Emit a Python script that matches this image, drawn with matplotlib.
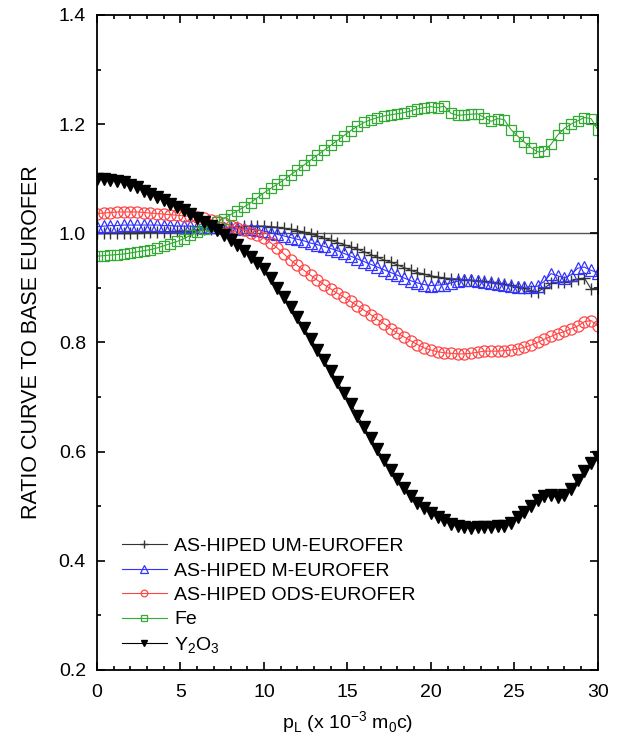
import numpy as np
import matplotlib
matplotlib.use('Agg')
import matplotlib.pyplot as plt

plt.rcParams['font.family'] = ['Liberation Sans', 'DejaVu Sans']
plt.rcParams['mathtext.fontset'] = 'custom'
plt.rcParams['mathtext.rm'] = 'Liberation Sans'

# momentum grid (x 10^-3 m0c)
p_l = np.arange(0, 30.01, 0.4)

um_eurofer = [1.000, 1.000, 1.000, 1.000, 1.001, 1.001, 1.001, 1.002, 1.002, 1.002,
              1.003, 1.003, 1.004, 1.004, 1.005, 1.006, 1.007, 1.008, 1.009, 1.010,
              1.011, 1.012, 1.013, 1.013, 1.013, 1.013, 1.012, 1.011, 1.009, 1.007,
              1.005, 1.002, 0.999, 0.995, 0.991, 0.987, 0.983, 0.979, 0.975, 0.971,
              0.966, 0.961, 0.956, 0.951, 0.947, 0.942, 0.937, 0.932, 0.928, 0.925,
              0.922, 0.920, 0.918, 0.917, 0.916, 0.915, 0.914, 0.913, 0.912, 0.911,
              0.909, 0.907, 0.905, 0.902, 0.899, 0.895, 0.893, 0.900, 0.908, 0.910,
              0.911, 0.912, 0.916, 0.918, 0.898, 0.900]

m_eurofer = [1.012, 1.013, 1.014, 1.014, 1.015, 1.015, 1.015, 1.015, 1.015, 1.015,
             1.014, 1.014, 1.013, 1.013, 1.013, 1.012, 1.012, 1.011, 1.011, 1.010,
             1.010, 1.009, 1.008, 1.007, 1.006, 1.004, 1.001, 0.998, 0.995, 0.992,
             0.989, 0.986, 0.982, 0.979, 0.976, 0.972, 0.968, 0.963, 0.958, 0.953,
             0.948, 0.943, 0.938, 0.933, 0.928, 0.923, 0.918, 0.913, 0.909, 0.906,
             0.904, 0.905, 0.906, 0.909, 0.912, 0.915, 0.914, 0.912, 0.910, 0.909,
             0.907, 0.905, 0.903, 0.902, 0.901, 0.902, 0.903, 0.912, 0.926, 0.922,
             0.918, 0.924, 0.936, 0.938, 0.932, 0.928]

ods_eurofer = [1.036, 1.037, 1.038, 1.039, 1.039, 1.039, 1.039, 1.038, 1.037, 1.036,
               1.035, 1.034, 1.033, 1.032, 1.031, 1.030, 1.028, 1.025, 1.022, 1.018,
               1.014, 1.010, 1.006, 1.001, 0.996, 0.991, 0.983, 0.973, 0.962, 0.951,
               0.941, 0.932, 0.923, 0.914, 0.906, 0.898, 0.890, 0.883, 0.875, 0.867,
               0.859, 0.851, 0.842, 0.834, 0.825, 0.817, 0.810, 0.803, 0.796, 0.790,
               0.786, 0.783, 0.781, 0.780, 0.779, 0.779, 0.780, 0.782, 0.784, 0.784,
               0.784, 0.785, 0.786, 0.788, 0.791, 0.795, 0.800, 0.806, 0.811, 0.816,
               0.820, 0.825, 0.830, 0.838, 0.840, 0.830]

fe = [0.958, 0.959, 0.960, 0.961, 0.962, 0.964, 0.966, 0.968, 0.970, 0.973,
      0.977, 0.981, 0.985, 0.990, 0.996, 1.002, 1.008, 1.014, 1.020, 1.027,
      1.034, 1.041, 1.048, 1.056, 1.065, 1.074, 1.082, 1.090, 1.098, 1.107,
      1.116, 1.125, 1.134, 1.143, 1.152, 1.161, 1.170, 1.179, 1.188, 1.196,
      1.203, 1.208, 1.212, 1.215, 1.217, 1.219, 1.221, 1.224, 1.228, 1.230,
      1.232, 1.230, 1.233, 1.220, 1.216, 1.217, 1.218, 1.219, 1.212, 1.205,
      1.210, 1.208, 1.190, 1.178, 1.167, 1.157, 1.149, 1.150, 1.163, 1.180,
      1.192, 1.200, 1.206, 1.212, 1.210, 1.190]

y2o3 = [1.100, 1.100, 1.098, 1.096, 1.093, 1.089, 1.084, 1.078, 1.072, 1.066,
        1.060, 1.054, 1.048, 1.042, 1.035, 1.028, 1.021, 1.014, 1.006, 0.997,
        0.988, 0.978, 0.968, 0.957, 0.946, 0.934, 0.918, 0.900, 0.883, 0.865,
        0.846, 0.827, 0.807, 0.787, 0.767, 0.748, 0.728, 0.708, 0.688, 0.666,
        0.645, 0.624, 0.604, 0.585, 0.567, 0.549, 0.533, 0.518, 0.505, 0.496,
        0.488, 0.481, 0.474, 0.468, 0.463, 0.461, 0.460, 0.461, 0.461, 0.462,
        0.463, 0.464, 0.470, 0.480, 0.490, 0.500, 0.512, 0.519, 0.520, 0.516,
        0.520, 0.532, 0.548, 0.565, 0.579, 0.590]

fig = plt.figure(figsize=(6.22, 7.46), dpi=100)
ax = fig.add_axes([0.156, 0.102, 0.805, 0.878])

ax.axhline(1.0, color='#555555', lw=1.0, zorder=1)

ax.plot(p_l, um_eurofer, color='#333333', lw=0.8, marker='+', ms=9, mew=1.0,
        label='AS-HIPED UM-EUROFER')
ax.plot(p_l, m_eurofer, color='#3333ff', lw=0.8, marker='^', ms=8.5, mfc='none', mew=0.9,
        label='AS-HIPED M-EUROFER')
ax.plot(p_l, ods_eurofer, color='#ff4444', lw=0.8, marker='o', ms=8, mfc='none', mew=0.9,
        label='AS-HIPED ODS-EUROFER')
ax.plot(p_l, fe, color='#33aa33', lw=0.8, marker='s', ms=7.5, mfc='none', mew=0.9,
        label='Fe')
ax.plot(p_l, y2o3, color='black', lw=0.8, marker='v', ms=8,
        label=r'Y$_\mathregular{2}$O$_\mathregular{3}$')

ax.set_xlim(0, 30)
ax.set_ylim(0.2, 1.4)
ax.set_xticks(np.arange(0, 31, 5))
ax.set_xticks(np.arange(0, 31, 1), minor=True)
ax.set_yticks(np.arange(0.2, 1.41, 0.2))
ax.set_yticks(np.arange(0.2, 1.41, 0.1), minor=True)
ax.set_yticklabels(['0.2', '0.4', '0.6', '0.8', '1.0', '1.2', '1.4'])

ax.tick_params(which='both', direction='in', top=True, right=True, width=1.2,
               labelsize=14)
ax.tick_params(which='major', length=6)
ax.tick_params(which='minor', length=3)
ax.tick_params(axis='y', pad=8)
ax.tick_params(axis='x', pad=10)
for s in ax.spines.values():
    s.set_linewidth(1.3)

ax.set_xlabel(r'p$_\mathregular{L}$ (x 10$^\mathregular{-3}$ m$_\mathregular{0}$c)',
              fontsize=14, labelpad=6)
ax.set_ylabel('RATIO CURVE TO BASE EUROFER', fontsize=15.5, labelpad=12)

ax.legend(loc='lower left', frameon=False, fontsize=14, markerscale=0.6,
          handlelength=2.3, handletextpad=0.4, labelspacing=0.35,
          borderaxespad=0, bbox_to_anchor=(0.034, 0.010))

plt.savefig('out.png', dpi=100)
